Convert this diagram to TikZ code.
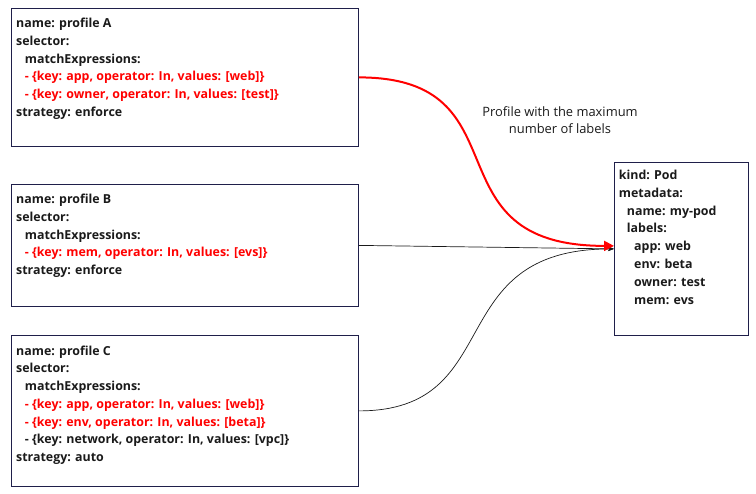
\documentclass[tikz,border=0pt]{standalone}
\usepackage{fontspec}
\setmainfont{Open Sans}
\usetikzlibrary{arrows.meta}
\definecolor{boxline}{HTML}{1F1F4A}
\definecolor{txt}{HTML}{1A1A1A}
\definecolor{hl}{HTML}{FF0000}
\newcommand{\ind}{\hspace*{8.7pt}}
\newcommand{\hlt}[1]{\textcolor{hl}{#1}}
\begin{document}
\begin{tikzpicture}[x=1pt,y=-1pt,
  panel/.style={draw=boxline, line width=0.8pt, inner sep=0pt, anchor=north west},
  body/.style={anchor=base west, align=left, inner sep=0pt, text=txt, font=\bfseries\fontsize{12.4}{17.8}\selectfont},
  note/.style={align=center, inner sep=0pt, text=txt, font=\fontsize{12.9}{16.5}\selectfont},
  link/.style={draw=txt, line width=0.7pt, -{Stealth[length=6pt,width=4.5pt]}},
  redlink/.style={draw=hl, line width=2pt, -{Triangle[length=10pt,width=10pt]}}]
\useasboundingbox (0,0) rectangle (756,494);
% boxes
\node[panel, minimum width=347pt, minimum height=138pt] (A) at (11,8) {};
\node[panel, minimum width=347pt, minimum height=122pt] (B) at (11,184) {};
\node[panel, minimum width=347pt, minimum height=151pt] (C) at (11,335) {};
\node[panel, minimum width=134pt, minimum height=173pt] (P) at (614,162) {};
% texts (anchored at the baseline of the last line)
\node[body] (tA) at (16,116.5) {name: profile A\\selector:\\\ind matchExpressions:\\\ind\hlt{- \{key: app, operator: In, values: [web]\}}\\\ind\hlt{- \{key: owner, operator: In, values: [test]\}}\\strategy: enforce};
\node[body] (tB) at (16,274.7) {name: profile B\\selector:\\\ind matchExpressions:\\\ind\hlt{- \{key: mem, operator: In, values: [evs]\}}\\strategy: enforce};
\node[body] (tC) at (16,461.8) {name: profile C\\selector:\\\ind matchExpressions:\\\ind\hlt{- \{key: app, operator: In, values: [web]\}}\\\ind\hlt{- \{key: env, operator: In, values: [beta]\}}\\\ind- \{key: network, operator: In, values: [vpc]\}\\strategy: auto};
\node[body] (tP) at (618.7,304.1) {kind: Pod\\metadata:\\\hspace*{8pt}name: my-pod\\\hspace*{8pt}labels:\\\hspace*{15.3pt}app: web\\\hspace*{15.3pt}env: beta\\\hspace*{15.3pt}owner: test\\\hspace*{15.3pt}mem: evs};
\node[note] (lbl) at (560,120) {Profile with the maximum\\number of labels};
% connectors
\draw[link] (B.east) -- (P.west);
\draw[link] (C.east) .. controls +(150,0) and +(-175,0) .. (P.west);
\draw[redlink] (A.east) .. controls +(170,0) and +(-190,0) .. ([yshift=3pt]P.west);
\end{tikzpicture}
\end{document}
